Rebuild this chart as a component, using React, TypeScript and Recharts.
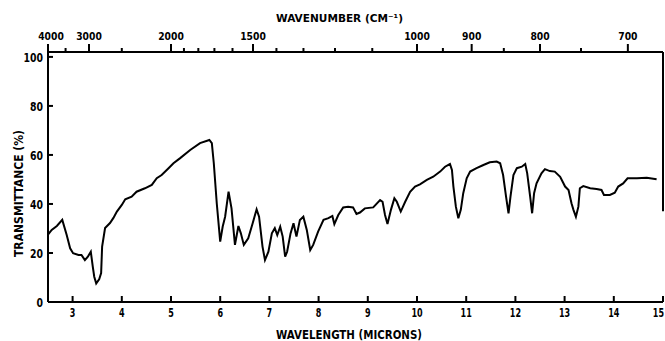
import React from "react";
import { LineChart, Line, XAxis, YAxis, ReferenceLine, Label } from "recharts";

const wavelength = [
  2.5, 2.575, 2.68, 2.79, 2.88, 2.95, 3.01, 3.12, 3.18, 3.25,
  3.31, 3.37, 3.41, 3.44, 3.48, 3.54, 3.58, 3.6, 3.66, 3.76,
  3.83, 3.9, 4.0, 4.07, 4.2, 4.3, 4.47, 4.61, 4.71, 4.81,
  4.95, 5.05, 5.18, 5.39, 5.59, 5.78, 5.83, 5.87, 5.93, 6.0,
  6.05, 6.1, 6.17, 6.23, 6.3, 6.37, 6.42, 6.48, 6.57, 6.66,
  6.74, 6.79, 6.86, 6.91, 6.98, 7.05, 7.11, 7.16, 7.22, 7.27,
  7.32, 7.36, 7.43, 7.49, 7.55, 7.62, 7.69, 7.76, 7.83, 7.89,
  7.99, 8.1, 8.2, 8.28, 8.32, 8.4, 8.5, 8.6, 8.7, 8.77,
  8.84, 8.94, 9.11, 9.25, 9.3, 9.35, 9.4, 9.47, 9.54, 9.59,
  9.67, 9.76, 9.86, 9.96, 10.06, 10.2, 10.33, 10.47, 10.57, 10.67,
  10.71, 10.74, 10.79, 10.84, 10.89, 10.94, 11.01, 11.08, 11.21, 11.35,
  11.48, 11.62, 11.69, 11.75, 11.81, 11.86, 11.9, 11.96, 12.03, 12.13,
  12.2, 12.24, 12.3, 12.34, 12.38, 12.43, 12.53, 12.6, 12.7, 12.8,
  12.91, 13.01, 13.08, 13.14, 13.18, 13.23, 13.28, 13.31, 13.38, 13.52,
  13.65, 13.75, 13.8, 13.92, 14.02, 14.09, 14.19, 14.28, 14.47, 14.67,
  14.87,
];

const transmittance = [
  27.5, 29.4, 31, 33.5, 27.3, 21.9, 19.9, 19.2, 19.2, 17.1,
  18.5, 20.5, 14.4, 10.3, 7.6, 9.3, 11.8, 22.6, 30.2, 32.2,
  34.3, 36.9, 39.6, 41.9, 43, 45, 46.4, 47.8, 50.5, 51.8,
  54.6, 56.6, 58.6, 62, 64.8, 66.1, 64.8, 56.6, 40.3, 24.6,
  30.7, 34.8, 45, 38.2, 23.3, 31, 28, 23.3, 26, 32.1,
  37.8, 34.8, 22.6, 17.1, 20.5, 28, 30.1, 27.3, 30.7, 26.7,
  18.5, 20.5, 28, 32.1, 26.7, 33.5, 34.8, 29.4, 21.2, 23.3,
  28.7, 33.5, 34.2, 35.1, 31.8, 35.5, 38.6, 38.9, 38.6, 35.9,
  36.5, 38.2, 38.6, 41.6, 40.9, 35.5, 31.8, 37.6, 42.3, 40.9,
  36.9, 40.9, 45, 47.1, 48, 49.8, 51.1, 53.2, 55.2, 56.3,
  53.9, 47.1, 38.9, 34.2, 37.6, 44.4, 50.5, 53.2, 54.6, 55.9,
  57, 57.3, 56.6, 51.8, 43, 36.2, 43, 51.8, 54.6, 55.2,
  56.3, 52.5, 43, 36.2, 44.4, 48.4, 52.5, 54.2, 53.4, 53.2,
  51.1, 47.1, 45.7, 40.3, 37.6, 34.8, 38.9, 46.4, 47.3, 46.4,
  46.1, 45.7, 43.7, 43.7, 44.6, 47.1, 48.4, 50.5, 50.5, 50.7,
  50.1,
];

const wavelengthTicks = [3, 4, 5, 6, 7, 8, 9, 10, 11, 12, 13, 14, 15];
const transmittanceTicks = [0, 20, 40, 60, 80, 100];
const wavenumberMajor = [4000, 3000, 2000, 1500, 1000, 900, 800, 700];
const wavenumberMinor = [3500, 2500, 1900, 1800, 1700, 1600, 1400, 1300, 1200, 1100, 950, 850, 750];

const data = wavelength.map((w, i) => ({ w, t: transmittance[i] }));

const toMicrons = (nu: number) => 10000 / nu;
const topTicks = [...wavenumberMajor, ...wavenumberMinor].map(toMicrons).sort((a, b) => a - b);

const FONT = "'DejaVu Sans', sans-serif";

const NarrowText = ({ x, y, sx, size, anchor, children }: any) => (
  <text
    transform={`translate(${x} ${y}) scale(${sx} 1)`}
    x={0}
    y={0}
    textAnchor={anchor}
    fontFamily={FONT}
    fontWeight="bold"
    fontSize={size}
    fill="#000"
  >
    {children}
  </text>
);

const BottomTick = (props: any) => {
  const { x, y, payload } = props;
  const last = payload.value === 15;
  return (
    <g>
      <line x1={x} x2={x} y1={y} y2={y - 6} stroke="#000" strokeWidth={2} />
      <NarrowText x={last ? x + 1 : x} y={y + 15} sx={0.62} size={13} anchor={last ? "end" : "middle"}>
        {payload.value}
      </NarrowText>
    </g>
  );
};

const TopTick = (props: any) => {
  const { x, y, payload } = props;
  const nu = Math.round(10000 / payload.value);
  const major = wavenumberMajor.includes(nu);
  return (
    <g>
      <line x1={x} x2={x} y1={y} y2={y - (major ? 8 : 4)} stroke="#000" strokeWidth={2} />
      {major && (
        <NarrowText x={x + (nu === 4000 ? 3 : 0)} y={y - 12} sx={0.84} size={11} anchor="middle">
          {nu}
        </NarrowText>
      )}
    </g>
  );
};

const LeftTick = (props: any) => {
  const { x, y, payload } = props;
  return (
    <g>
      <line x1={x} x2={x + 5} y1={y} y2={y} stroke="#000" strokeWidth={2} />
      <NarrowText x={x - 5} y={y + 5} sx={0.78} size={12} anchor="end">
        {payload.value}
      </NarrowText>
    </g>
  );
};

const BottomTitle = () => (
  <text
    x={276}
    y={339}
    textLength={146}
    lengthAdjust="spacingAndGlyphs"
    fontFamily={FONT}
    fontWeight="bold"
    fontSize={12}
    fill="#000"
  >
    WAVELENGTH (MICRONS)
  </text>
);

const TopTitle = () => (
  <text
    x={276}
    y={22}
    textLength={127}
    lengthAdjust="spacingAndGlyphs"
    fontFamily={FONT}
    fontWeight="bold"
    fontSize={11}
    fill="#000"
  >
    WAVENUMBER (CM⁻¹)
  </text>
);

const LeftTitle = () => (
  <text
    transform="translate(23 257) rotate(-90)"
    x={0}
    y={0}
    textLength={127}
    lengthAdjust="spacingAndGlyphs"
    fontFamily={FONT}
    fontWeight="bold"
    fontSize={12}
    fill="#000"
  >
    TRANSMITTANCE (%)
  </text>
);

export default function App() {
  return (
    <div style={{ position: "absolute", left: 0, top: 0, width: 665, height: 341, background: "#fff" }}>
      <LineChart width={665} height={341} data={data} margin={{ top: 0, right: 2, bottom: 0, left: 0 }}>
        <XAxis
          xAxisId="bottom"
          dataKey="w"
          type="number"
          domain={[2.5, 15]}
          ticks={wavelengthTicks}
          height={39}
          tickSize={0}
          tickMargin={0}
          axisLine={{ stroke: "#000", strokeWidth: 2 }}
          tickLine={false}
          tick={<BottomTick />}
          interval={0}
          allowDataOverflow
        >
          <Label content={<BottomTitle />} />
        </XAxis>
        <XAxis
          xAxisId="top"
          orientation="top"
          dataKey="w"
          type="number"
          domain={[2.5, 15]}
          ticks={topTicks}
          height={52}
          tickSize={0}
          tickMargin={0}
          axisLine={{ stroke: "#000", strokeWidth: 2 }}
          tickLine={false}
          tick={<TopTick />}
          interval={0}
          allowDataOverflow
        >
          <Label content={<TopTitle />} />
        </XAxis>
        <YAxis
          dataKey="t"
          type="number"
          domain={[0, 102]}
          ticks={transmittanceTicks}
          width={48}
          tickSize={0}
          tickMargin={0}
          axisLine={{ stroke: "#000", strokeWidth: 2 }}
          tickLine={false}
          tick={<LeftTick />}
          interval={0}
          allowDataOverflow
        >
          <Label content={<LeftTitle />} />
        </YAxis>
        <ReferenceLine
          xAxisId="bottom"
          segment={[{ x: 15, y: 102 }, { x: 15, y: 37 }]}
          stroke="#000"
          strokeWidth={2}
          ifOverflow="visible"
        />
        <Line
          xAxisId="bottom"
          dataKey="t"
          type="linear"
          stroke="#000"
          strokeWidth={2}
          dot={false}
          isAnimationActive={false}
        />
      </LineChart>
    </div>
  );
}
